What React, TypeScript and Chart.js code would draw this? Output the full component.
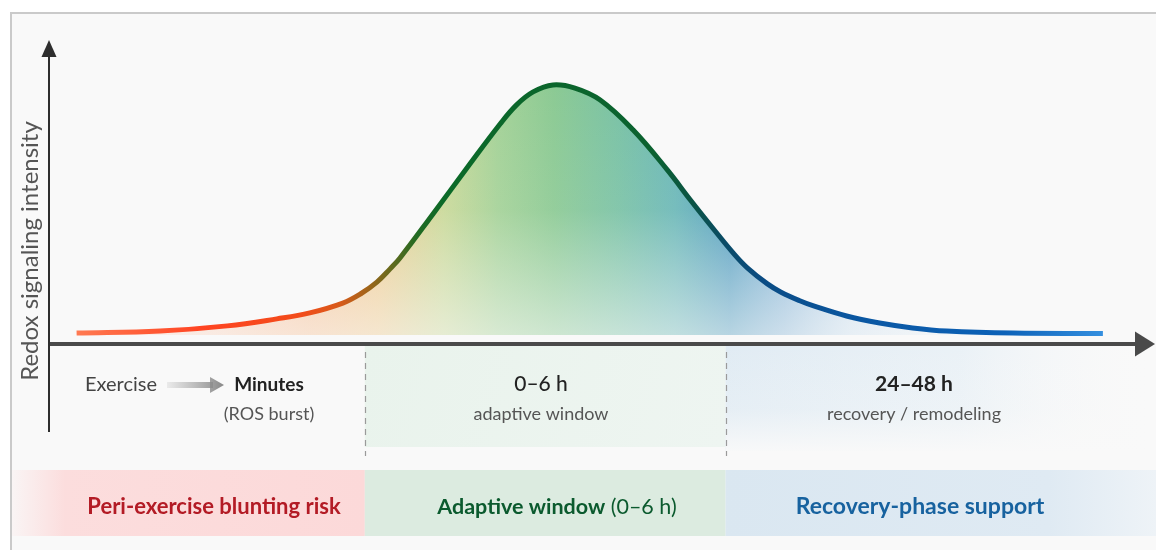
import React, { useEffect, useRef } from "react";
import { Chart, registerables } from "chart.js";

Chart.register(...registerables);

// ---- data (time in arbitrary units 0–100 along the x axis, intensity with peak = 100)
const timePoints = [2.6, 10.2, 16.3, 20.8, 23.8, 26.8, 28.4, 29.9, 31.1, 32.0, 35.0, 38.1, 41.1, 42.6, 44.1, 45.9, 47.9, 50.2, 53.2, 56.3, 58.4, 60.5, 62.3, 63.6, 65.4, 66.6, 68.4, 69.6, 72.6, 75.6, 78.6, 81.7, 87.7, 95.9];
const intensity = [4.2, 5.0, 7.0, 9.7, 12.0, 15.8, 19.3, 23.9, 29.0, 33.2, 50.2, 68.0, 84.9, 92.3, 97.3, 100, 98.8, 94.2, 82.6, 67.2, 55.6, 44.4, 35.1, 29.3, 23.2, 20.1, 16.6, 14.7, 10.8, 8.1, 6.2, 5.0, 4.2, 4.05];
const zoneEdges = [0, 28.8, 61.6, 100];
const timeLabels = ["Minutes", "0–6 h", "24–48 h"];
const timeNotes = ["(ROS burst)", "adaptive window", "recovery / remodeling"];
const startLabel = "Exercise";
const bandLabels = ["Peri-exercise blunting risk", "Adaptive window", "Recovery-phase support"];
const bandSuffix = ["", " (0–6 h)", ""];
const yTitle = "Redox signaling intensity";

const W = 1156;
const H = 550;
const BG = "#f9f9f9";
const FONT = "Lato, 'Open Sans', sans-serif";

function hGrad(chart: any, stops: [number, string][]) {
  const { ctx, chartArea } = chart;
  if (!chartArea) return "rgba(0,0,0,0)";
  const xs = chart.scales.x;
  const g = ctx.createLinearGradient(xs.getPixelForValue(0), 0, xs.getPixelForValue(100), 0);
  stops.forEach(([v, c]) => g.addColorStop(v / 100, c));
  return g;
}

const lineStops: [number, string][] = [
  [2.6, "#ff7a52"], [14, "#ff4422"], [23, "#f24c1a"], [26.5, "#d85a1a"], [28.8, "#a8641a"],
  [31, "#6a6a1c"], [33.5, "#226a22"], [36, "#0b6a28"], [55, "#0b6230"], [58.5, "#0b5444"],
  [61.5, "#0a4b66"], [65, "#0a4c84"], [73, "#0a56a0"], [87, "#0d62b8"], [96, "#3590e0"],
];
const fillStops: [number, string][] = [
  [2.6, "rgba(255,140,100,0.12)"], [16, "rgba(250,165,115,0.45)"], [24, "rgba(246,185,135,0.85)"],
  [30, "rgba(238,200,138,0.95)"], [36, "rgba(200,216,150,0.97)"], [41, "rgba(164,210,152,1)"],
  [46, "rgba(140,202,148,1)"], [52, "rgba(122,194,166,1)"], [57, "rgba(108,184,184,1)"],
  [62, "rgba(84,158,192,1)"], [67, "rgba(120,172,210,0.85)"], [73, "rgba(160,198,228,0.5)"],
  [85, "rgba(200,222,240,0.15)"], [100, "rgba(220,232,244,0)"],
];

const decor = {
  id: "decor",
  beforeDraw(chart: any) {
    const { ctx, chartArea: ca, scales } = chart;
    const xs = scales.x;
    const x1 = xs.getPixelForValue(zoneEdges[1]);
    const x2 = xs.getPixelForValue(zoneEdges[2]);
    ctx.save();
    ctx.fillStyle = "#ffffff";
    ctx.fillRect(0, 0, W, H);
    ctx.fillStyle = BG;
    ctx.fillRect(11, 13, W - 11, H - 13);
    ctx.strokeStyle = "#cacaca";
    ctx.lineWidth = 2;
    ctx.beginPath();
    ctx.moveTo(11, H);
    ctx.lineTo(11, 13);
    ctx.lineTo(W, 13);
    ctx.stroke();

    // upper panels
    const pTop = ca.bottom + 2;
    const pBot = ca.bottom + 103;
    let g = ctx.createLinearGradient(x1, pTop, x2, pBot);
    g.addColorStop(0, "#e9f3ec");
    g.addColorStop(1, "#eef5f1");
    ctx.fillStyle = g;
    ctx.fillRect(x1, pTop, x2 - x1, pBot - pTop);
    g = ctx.createLinearGradient(x2, 0, W, 0);
    g.addColorStop(0, "rgba(222,234,243,0.9)");
    g.addColorStop(0.55, "rgba(228,238,245,0.7)");
    g.addColorStop(1, "rgba(249,249,249,0)");
    ctx.fillStyle = g;
    ctx.fillRect(x2, pTop, W - x2, pBot - pTop + 4);
    g = ctx.createLinearGradient(0, pTop, 0, pBot + 4);
    g.addColorStop(0, "rgba(249,249,249,0)");
    g.addColorStop(0.6, "rgba(249,249,249,0.2)");
    g.addColorStop(1, "rgba(249,249,249,0.95)");
    ctx.fillStyle = g;
    ctx.fillRect(x2, pTop, W - x2, pBot - pTop + 4);

    // bottom bands
    const bTop = ca.bottom + 126;
    const bBot = ca.bottom + 192;
    g = ctx.createLinearGradient(12, 0, x1, 0);
    g.addColorStop(0, "rgba(252,218,218,0.15)");
    g.addColorStop(0.15, "rgba(252,218,218,0.9)");
    g.addColorStop(1, "#fcd9d9");
    ctx.fillStyle = g;
    ctx.fillRect(12, bTop, x1 - 12, bBot - bTop);
    ctx.fillStyle = "#dcebe0";
    ctx.fillRect(x1, bTop, x2 - x1, bBot - bTop);
    g = ctx.createLinearGradient(x2, 0, W, 0);
    g.addColorStop(0, "#dae7f1");
    g.addColorStop(0.75, "#dfeaf3");
    g.addColorStop(1, "#eef3f7");
    ctx.fillStyle = g;
    ctx.fillRect(x2, bTop, W - x2, bBot - bTop);

    // dashed separators
    ctx.strokeStyle = "#9a9a9a";
    ctx.lineWidth = 1.2;
    ctx.setLineDash([6, 5]);
    [x1, x2].forEach((x) => {
      ctx.beginPath();
      ctx.moveTo(Math.round(x) + 0.5, ca.bottom + 8);
      ctx.lineTo(Math.round(x) + 0.5, ca.bottom + 112);
      ctx.stroke();
    });
    ctx.setLineDash([]);
    ctx.restore();
  },
  afterDraw(chart: any) {
    const { ctx, chartArea: ca } = chart;
    ctx.save();
    // x axis
    ctx.strokeStyle = "#4a4a4a";
    ctx.fillStyle = "#4a4a4a";
    ctx.lineWidth = 4;
    ctx.beginPath();
    ctx.moveTo(ca.left, ca.bottom);
    ctx.lineTo(ca.right - 10, ca.bottom);
    ctx.stroke();
    ctx.beginPath();
    ctx.moveTo(ca.right - 13, ca.bottom - 12.5);
    ctx.lineTo(ca.right + 7, ca.bottom);
    ctx.lineTo(ca.right - 13, ca.bottom + 12.5);
    ctx.closePath();
    ctx.fill();
    // y axis
    ctx.strokeStyle = "#2e2e2e";
    ctx.fillStyle = "#2e2e2e";
    ctx.lineWidth = 2;
    ctx.beginPath();
    ctx.moveTo(ca.left + 1, ca.bottom + 88);
    ctx.lineTo(ca.left + 1, ca.top + 10);
    ctx.stroke();
    ctx.beginPath();
    ctx.moveTo(ca.left + 1, ca.top - 4);
    ctx.lineTo(ca.left - 6.5, ca.top + 13);
    ctx.lineTo(ca.left + 8.5, ca.top + 13);
    ctx.closePath();
    ctx.fill();

    // y title
    ctx.save();
    ctx.translate(38, 251);
    ctx.rotate(-Math.PI / 2);
    ctx.textAlign = "center";
    ctx.textBaseline = "alphabetic";
    ctx.font = `24px ${FONT}`;
    ctx.fillStyle = "#555555";
    ctx.fillText(yTitle, 0, 0);
    ctx.restore();

    // time row
    const r1 = ca.bottom + 47;
    const r2 = ca.bottom + 76;
    ctx.textBaseline = "alphabetic";
    ctx.textAlign = "left";
    ctx.font = `20px ${FONT}`;
    ctx.fillStyle = "#444444";
    ctx.fillText(startLabel, 85, r1);
    // small arrow
    const ay = ca.bottom + 41;
    const g = ctx.createLinearGradient(167, 0, 223, 0);
    g.addColorStop(0, "rgba(150,150,150,0.15)");
    g.addColorStop(1, "#8a8a8a");
    ctx.fillStyle = g;
    ctx.fillRect(167, ay - 3, 46, 6);
    ctx.beginPath();
    ctx.moveTo(210, ay - 8);
    ctx.lineTo(224, ay);
    ctx.lineTo(210, ay + 8);
    ctx.closePath();
    ctx.fill();

    const centers = [269, 541, 914];
    const mainFonts = [`bold 19px ${FONT}`, `500 21px ${FONT}`, `bold 21px ${FONT}`];
    ctx.textAlign = "center";
    timeLabels.forEach((t, i) => {
      ctx.font = mainFonts[i];
      ctx.fillStyle = "#222222";
      ctx.fillText(t, centers[i], r1);
      ctx.font = `18px ${FONT}`;
      ctx.fillStyle = "#555555";
      ctx.fillText(timeNotes[i], centers[i], r2);
    });

    // band labels
    const rb = ca.bottom + 170;
    const bandCenters = [214, 557, 920];
    const bandColors = ["#b31b25", "#0b5a2e", "#17629f"];
    const sizes = [22, 21.5, 23];
    bandLabels.forEach((t, i) => {
      const s = sizes[i];
      ctx.font = `bold ${s}px ${FONT}`;
      const w1 = ctx.measureText(t).width;
      ctx.font = `${s}px ${FONT}`;
      const w2 = bandSuffix[i] ? ctx.measureText(bandSuffix[i]).width : 0;
      const left = bandCenters[i] - (w1 + w2) / 2;
      ctx.textAlign = "left";
      ctx.fillStyle = bandColors[i];
      ctx.font = `bold ${s}px ${FONT}`;
      ctx.fillText(t, left, rb);
      if (bandSuffix[i]) {
        ctx.font = `${s}px ${FONT}`;
        ctx.fillText(bandSuffix[i], left + w1, rb);
      }
    });
    ctx.restore();
  },
};

export default function App() {
  const ref = useRef<HTMLCanvasElement>(null);
  useEffect(() => {
    const canvas = ref.current;
    if (!canvas) return;
    const pts = timePoints.map((x, i) => ({ x, y: intensity[i] }));
    const common = { data: pts, pointRadius: 0, tension: 0.4 };
    const chart = new Chart(canvas, {
      type: "line",
      data: {
        datasets: [
          {
            ...common,
            borderColor: (c: any) => hGrad(c.chart, lineStops),
            borderWidth: 5,
            fill: false,
          },
          {
            ...common,
            borderWidth: 0,
            borderColor: "rgba(0,0,0,0)",
            backgroundColor: (c: any) => {
              const { ctx, chartArea } = c.chart;
              if (!chartArea) return "rgba(0,0,0,0)";
              const ys = c.chart.scales.y;
              const g = ctx.createLinearGradient(0, ys.getPixelForValue(100), 0, ys.getPixelForValue(3.5));
              g.addColorStop(0, "rgba(249,249,249,0)");
              g.addColorStop(0.5, "rgba(249,249,249,0.08)");
              g.addColorStop(1, "rgba(249,249,249,0.6)");
              return g;
            },
            fill: { value: 3.5 },
          },
          {
            ...common,
            borderWidth: 0,
            borderColor: "rgba(0,0,0,0)",
            backgroundColor: (c: any) => hGrad(c.chart, fillStops),
            fill: { value: 3.5 },
          },
        ],
      },
      options: {
        responsive: false,
        animation: false,
        events: [],
        layout: { padding: { left: 48, right: 8, top: 44, bottom: 206 } },
        scales: {
          x: { type: "linear", min: 0, max: 100, display: false },
          y: { min: 0, max: 115.8, display: false },
        },
        plugins: { legend: { display: false }, tooltip: { enabled: false } },
      },
      plugins: [decor],
    } as any);
    return () => chart.destroy();
  }, []);
  return (
    <div style={{ position: "fixed", left: 0, top: 0, width: W, height: H }}>
      <canvas ref={ref} width={W} height={H} style={{ display: "block", width: W, height: H }} />
    </div>
  );
}
